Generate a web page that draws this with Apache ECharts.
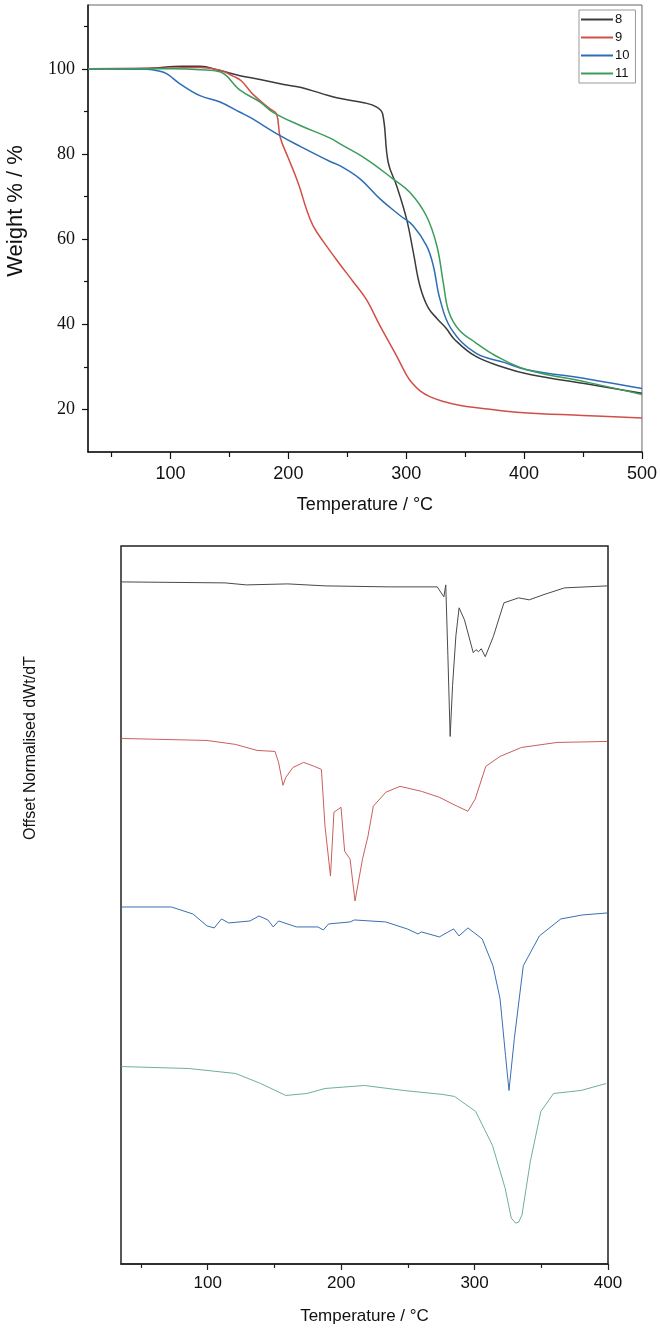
<!DOCTYPE html>
<html>
<head>
<meta charset="utf-8">
<script src="https://cdn.jsdelivr.net/npm/echarts@6/dist/echarts.min.js"></script>
<style>html,body{margin:0;padding:0;background:#fff}#c{width:660px;height:1330px}</style>
</head>
<body>
<div id="c"></div>
<script>
// ---------- TGA (top) ----------
const seriesNames = ['8', '9', '10', '11'];
const tga8T = [30, 80, 110, 125, 142, 159, 176, 196, 210, 241, 265, 275, 280, 284.7, 291.9, 300.3, 306, 311.6, 318.6, 326.6, 334, 340.8, 358.7, 383.6, 405, 455, 500];
const tga8W = [100, 100.1, 100.6, 100.6, 99.6, 98.4, 97.5, 96.3, 95.7, 93.2, 92, 91, 89.4, 78, 72.5, 64.7, 56.9, 49, 43.9, 41.2, 39, 36.5, 32.5, 29.8, 28.2, 25.9, 23.8];
const tga9T = [30, 100, 125, 142, 153, 160, 170, 184.5, 190, 193, 200, 205, 210, 215, 221, 230, 244, 255, 266, 278, 291, 300, 305, 312, 320, 330, 345, 360, 400, 450, 500];
const tga9W = [100, 100.2, 100.3, 99.7, 98.3, 97.2, 94, 90.6, 89.4, 84, 79, 75.6, 71.8, 67.3, 63.1, 59.3, 54, 50, 45.9, 39.5, 33, 28.2, 26.2, 24.3, 23, 22, 21, 20.4, 19.2, 18.6, 18];
const tga10T = [30, 80, 90, 97, 108, 125, 142, 159, 167.5, 193, 210, 235, 244, 261, 278, 295, 306, 317.3, 323, 328.6, 338, 358.7, 383.6, 401.5, 455, 500];
const tga10W = [100, 99.9, 99.5, 98.8, 96.5, 93.7, 92.2, 89.8, 88.6, 84.3, 81.8, 78.3, 77.2, 74.1, 69.4, 65.5, 63.1, 58.4, 53.7, 45.9, 39, 33.3, 31, 29.4, 27.1, 24.9];
const tga11T = [30, 100, 125, 142, 159, 176, 187, 210, 235, 245, 266, 289, 303, 317, 326, 331.4, 336, 344.5, 358.7, 376.5, 401.5, 455, 500];
const tga11W = [100, 100, 99.8, 99.3, 95, 92.2, 89.8, 86.7, 83.8, 82.2, 78.8, 74.1, 71, 65.5, 58.4, 49.8, 43, 38.8, 35.7, 32.5, 29.4, 26.3, 23.5];

const tgaXMajor = [100, 200, 300, 400, 500];
const tgaXMinor = [50, 150, 250, 350, 450];
const tgaYMajor = [20, 40, 60, 80, 100];
const tgaYMinor = [30, 50, 70, 90, 110];

// ---------- DTG (bottom) ----------
const dtg8T = [35.3, 113, 129, 160, 188, 236, 272, 277, 278.4, 280, 281.7, 283.5, 286, 288.4, 292.4, 299, 301, 303, 305, 308, 314, 322, 333, 341, 351.3, 367.4, 399.5];
const dtg8Y = [-3.6, -3.7, -3.9, -3.8, -4.0, -4.1, -4.1, -5.1, -3.9, -11, -19.1, -14, -9, -6.2, -7.4, -10.7, -10.4, -10.6, -10.3, -11.1, -9.1, -5.7, -5.2, -5.4, -4.9, -4.2, -4.0];
const dtg9T = [35.3, 99.5, 121, 137, 150.4, 153.1, 156.4, 158.5, 163.9, 171.9, 179.9, 185.2, 187.9, 192, 194.6, 199.9, 202.6, 206.7, 210.4, 216, 220.1, 224.1, 233.4, 244.1, 260.2, 273.6, 287, 295, 300.4, 308.4, 319.1, 335.2, 361.8, 399.3];
const dtg9Y = [-19.3, -19.5, -19.9, -20.5, -20.6, -21.7, -24.0, -23.2, -22.2, -21.7, -22.1, -22.4, -28.1, -33.1, -26.7, -26.2, -30.6, -31.4, -35.6, -31.4, -29.1, -26.1, -24.7, -24.1, -24.6, -25.2, -26.1, -26.6, -25.4, -22.1, -21.1, -20.2, -19.7, -19.6];
const dtg10T = [35.3, 72.8, 88.9, 99.5, 104.9, 110.3, 115.7, 131.7, 138.4, 145.1, 149.1, 153.1, 166.5, 182.6, 186.6, 190.6, 206.7, 209.9, 233.4, 249.5, 257.6, 260.2, 273.6, 284.3, 288.3, 295, 305.7, 313.8, 319.1, 323.2, 325.8, 329.8, 336.5, 348.6, 364.6, 380.7, 399.3];
const dtg10Y = [-36.2, -36.2, -36.9, -38.1, -38.3, -37.4, -37.8, -37.6, -37.1, -37.5, -38.2, -37.6, -38.2, -38.2, -38.5, -37.9, -37.7, -37.5, -37.7, -38.4, -38.9, -38.7, -39.2, -38.4, -39.1, -38.3, -39.4, -42.1, -45.4, -51.1, -54.6, -49.4, -42.1, -39.1, -37.4, -37.0, -36.8];
const dtg11T = [35.3, 86.2, 121, 139.7, 158.5, 174.5, 187.9, 217.4, 246.8, 276.3, 285, 300.8, 313.4, 322.9, 327.5, 330.8, 333, 335.5, 341.8, 349.7, 359.2, 379.7, 398.6];
const dtg11Y = [-52.2, -52.4, -52.9, -53.9, -55.1, -54.9, -54.4, -54.1, -54.6, -55.0, -55.2, -56.7, -60.1, -64.4, -67.4, -67.9, -67.8, -67.1, -61.7, -56.7, -54.9, -54.6, -53.9];

const dtgXMajor = [100, 200, 300, 400];
const dtgXMinor = [50, 150, 250, 350];

const topColors = ['#3b3b3b', '#d24f48', '#2d6db6', '#3c9c5c'];
const botColors = ['#4a4a4a', '#c95f5a', '#3a6fb2', '#6db196'];

function pairs(xs, ys) { return xs.map((x, i) => [x, ys[i]]); }

const tga = [pairs(tga8T, tga8W), pairs(tga9T, tga9W), pairs(tga10T, tga10W), pairs(tga11T, tga11W)];
const dtg = [pairs(dtg8T, dtg8Y), pairs(dtg9T, dtg9Y), pairs(dtg10T, dtg10Y), pairs(dtg11T, dtg11Y)];

const SANS = '"Liberation Sans", Arial, sans-serif';
const SERIF = '"Liberation Serif", "Times New Roman", serif';

const chart = echarts.init(document.getElementById('c'), null, { renderer: 'canvas' });

const series = [];
tga.forEach((d, i) => series.push({
  name: seriesNames[i], type: 'line', xAxisIndex: 0, yAxisIndex: 0, data: d,
  symbol: 'none', smooth: 0.4,
  lineStyle: { color: topColors[i], width: 1.5 }, itemStyle: { color: topColors[i] }
}));
dtg.forEach((d, i) => series.push({
  name: 'dtg' + seriesNames[i], type: 'line', xAxisIndex: 2, yAxisIndex: 2, data: d,
  symbol: 'none', smooth: false,
  lineStyle: { color: botColors[i], width: 1 }, itemStyle: { color: botColors[i] }
}));

const option = {
  animation: false,
  backgroundColor: '#fff',
  grid: [
    { left: 88, top: 5, width: 554, height: 447, show: true, borderColor: '#666', borderWidth: 1, containLabel: false },
    { left: 121, top: 546, width: 487, height: 720, show: true, borderColor: '#222', borderWidth: 1.5, containLabel: false }
  ],
  legend: {
    data: seriesNames, orient: 'vertical', left: 579, top: 10,
    icon: 'rect', itemWidth: 32, itemHeight: 2, itemGap: 5,
    textStyle: { fontFamily: SANS, fontSize: 13, color: '#111', padding: [0, 0, 0, -3] },
    borderColor: '#999', borderWidth: 1, padding: [3, 6, 3, 2]
  },
  xAxis: [
    { gridIndex: 0, type: 'value', min: 30, max: 500, position: 'bottom',
      name: 'Temperature / °C', nameLocation: 'middle', nameGap: 44,
      nameTextStyle: { fontFamily: SANS, fontSize: 18, color: '#111' },
      axisLine: { show: true, onZero: false, lineStyle: { color: '#111', width: 1.5 } },
      axisTick: { show: true, length: 7, inside: false, customValues: tgaXMajor, lineStyle: { color: '#111', width: 1.2 } },
      axisLabel: { show: true, customValues: tgaXMajor, margin: 13, fontFamily: SANS, fontSize: 18, color: '#111' },
      splitLine: { show: false } },
    { gridIndex: 0, type: 'value', min: 30, max: 500, position: 'bottom',
      axisLine: { show: false, onZero: false },
      axisTick: { show: true, length: 5, customValues: tgaXMinor, lineStyle: { color: '#111', width: 1.2 } },
      axisLabel: { show: false }, splitLine: { show: false } },
    { gridIndex: 1, type: 'value', min: 35, max: 400, position: 'bottom',
      name: 'Temperature / °C', nameLocation: 'middle', nameGap: 44,
      nameTextStyle: { fontFamily: SANS, fontSize: 17, color: '#111' },
      axisLine: { show: true, onZero: false, lineStyle: { color: '#222', width: 1.5 } },
      axisTick: { show: true, length: 6, customValues: dtgXMajor, lineStyle: { color: '#222', width: 1.2 } },
      axisLabel: { show: true, customValues: dtgXMajor, margin: 11, fontFamily: SANS, fontSize: 17, color: '#111' },
      splitLine: { show: false } },
    { gridIndex: 1, type: 'value', min: 35, max: 400, position: 'bottom',
      axisLine: { show: false, onZero: false },
      axisTick: { show: true, length: 4, customValues: dtgXMinor, lineStyle: { color: '#222', width: 1.2 } },
      axisLabel: { show: false }, splitLine: { show: false } }
  ],
  yAxis: [
    { gridIndex: 0, type: 'value', min: 10, max: 115, position: 'left',
      axisLine: { show: true, onZero: false, lineStyle: { color: '#111', width: 1.5 } },
      axisTick: { show: true, length: 6, customValues: tgaYMajor, lineStyle: { color: '#111', width: 1.2 } },
      axisLabel: { show: true, customValues: tgaYMajor, margin: 13, fontFamily: SERIF, fontSize: 18, color: '#111' },
      splitLine: { show: false } },
    { gridIndex: 0, type: 'value', min: 10, max: 115, position: 'left',
      axisLine: { show: false, onZero: false },
      axisTick: { show: true, length: 4, customValues: tgaYMinor, lineStyle: { color: '#111', width: 1.2 } },
      axisLabel: { show: false }, splitLine: { show: false } },
    { gridIndex: 1, type: 'value', min: -72, max: 0, show: false, splitLine: { show: false } }
  ],
  graphic: [
    { type: 'text', x: 16, y: 211, rotation: Math.PI / 2,
      style: { text: 'Weight % / %', font: '22px ' + SANS, fill: '#111', align: 'center', verticalAlign: 'middle' } },
    { type: 'text', x: 31, y: 748, rotation: Math.PI / 2,
      style: { text: 'Offset Normalised dWt/dT', font: '16px ' + SANS, fill: '#111', align: 'center', verticalAlign: 'middle' } }
  ],
  series: series
};
chart.setOption(option);
</script>
</body>
</html>
